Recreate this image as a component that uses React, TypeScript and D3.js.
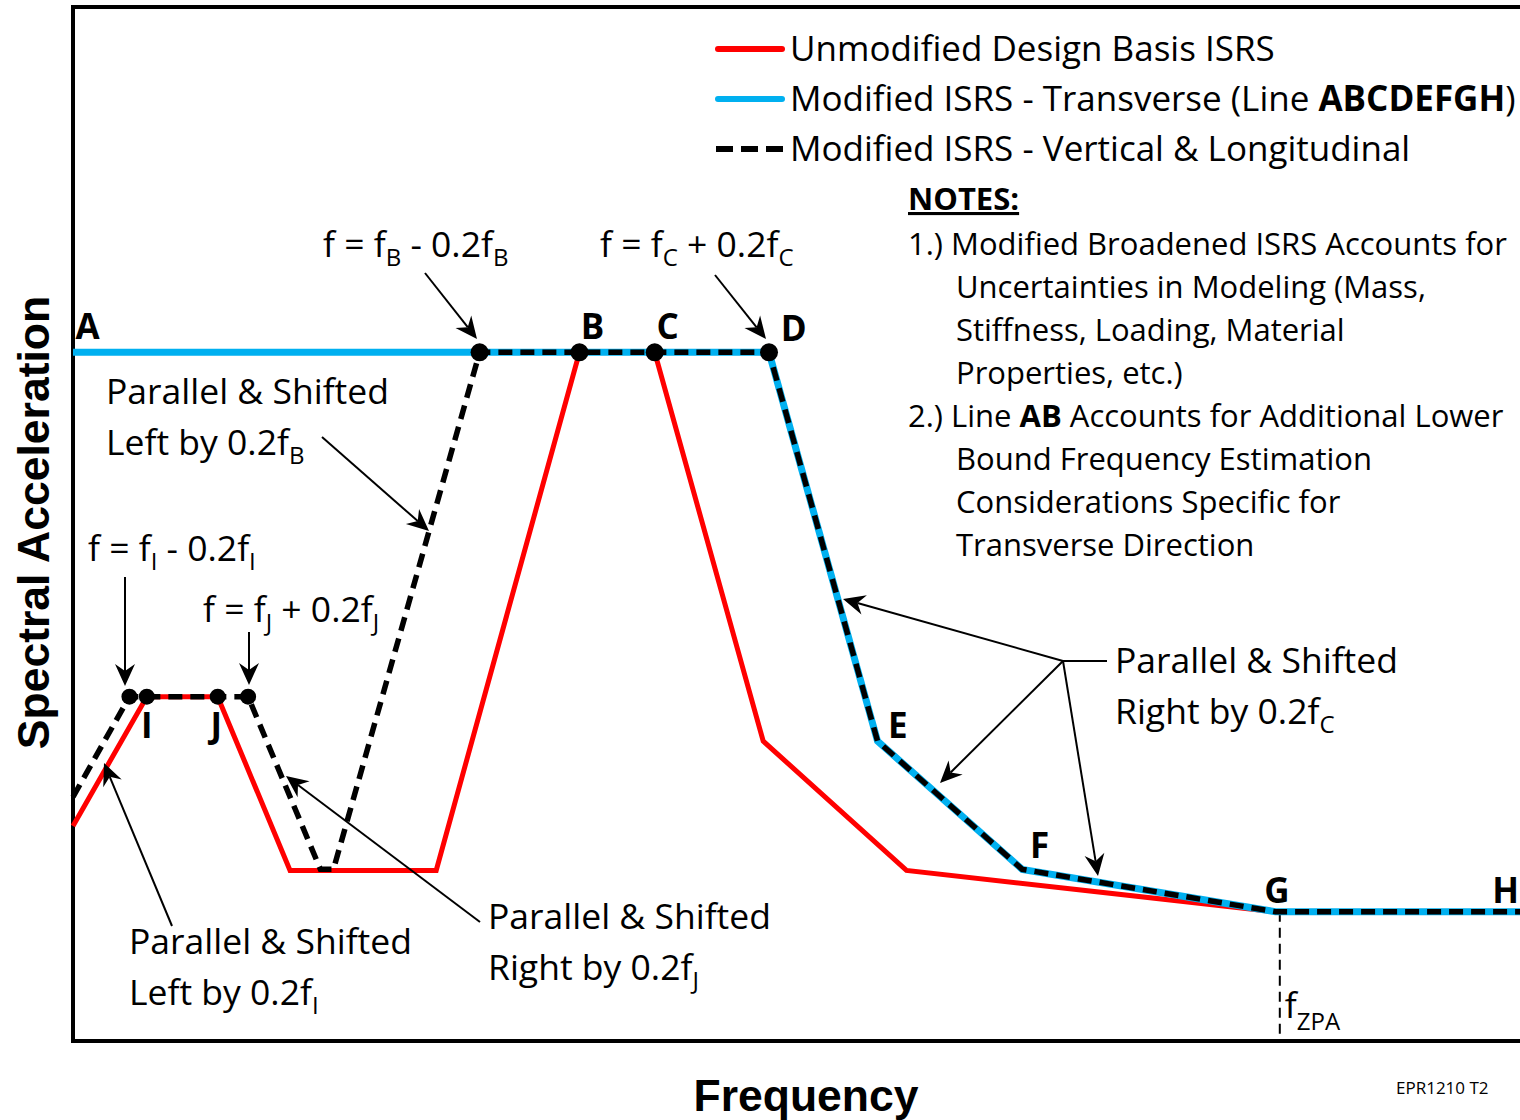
import React from "react";
import * as d3 from "d3";

// ---------- data (schematic frequency / spectral acceleration units) ----------
const unmodX = [0, 0.51, 1.0, 1.5, 2.51, 3.5, 4.02, 4.77, 5.76, 8.31, 10];
const unmodY = [2.08, 3.33, 3.33, 1.65, 1.65, 6.66, 6.66, 2.9, 1.65, 1.25, 1.25];

const transX = [0, 4.81, 5.56, 6.56, 8.31, 10];
const transY = [6.66, 6.66, 2.9, 1.66, 1.25, 1.25];

const vertX = [0, 0.39, 1.21, 1.71, 1.8, 2.81, 4.81, 5.56, 6.56, 8.31, 10];
const vertY = [2.36, 3.33, 3.33, 1.66, 1.66, 6.66, 6.66, 2.9, 1.66, 1.25, 1.25];

const upperDotsX = [2.81, 3.5, 4.02, 4.81];
const upperDotsY = [6.66, 6.66, 6.66, 6.66];
const lowerDotsX = [0.39, 0.51, 1.0, 1.21];
const lowerDotsY = [3.33, 3.33, 3.33, 3.33];

const pointNames = ["A", "B", "C", "D", "E", "F", "G", "H", "I", "J"];
const pointX = [0.1, 3.59, 4.11, 4.98, 5.7, 6.68, 8.32, 9.9, 0.51, 0.99];
const pointY = [6.79, 6.79, 6.79, 6.77, 2.93, 1.77, 1.33, 1.33, 2.93, 2.93];

const fZPA = 8.34;

const legendLabels = [
  "Unmodified Design Basis ISRS",
  "Modified ISRS - Transverse (Line ",
  "Modified ISRS - Vertical & Longitudinal",
];

const note1 = [
  "1.) Modified Broadened ISRS Accounts for",
  "Uncertainties in Modeling (Mass,",
  "Stiffness, Loading, Material",
  "Properties, etc.)",
];
const note2 = [
  "Bound Frequency Estimation",
  "Considerations Specific for",
  "Transverse Direction",
];

// ---------- layout ----------
const W = 1520;
const H = 1120;
const L = 73;
const R = 1520;
const T = 7;
const B = 1041;

const RED = "#FF0000";
const BLUE = "#00B0F0";
const FONT = "'Open Sans', sans-serif";
const ARIAL = "'Liberation Sans', Arial, sans-serif";
const FS = 35.5;
const LEGFS = 35;
const NOTEFS = 31;
const SUBFS = 24;
const SUBDY = 9;

const x = d3.scaleLinear().domain([0, 10]).range([L, R]);
const y = d3.scaleLinear().domain([0, 10]).range([B, T]);

const line = d3
  .line<[number, number]>()
  .x((d) => x(d[0]))
  .y((d) => y(d[1]));

const zip = (a: number[], b: number[]) => a.map((v, i) => [v, b[i]] as [number, number]);

type Part = [string, boolean?];

function Rich({ px, py, parts, size = FS, weight = 400 }: { px: number; py: number; parts: Part[]; size?: number; weight?: number }) {
  let inSub = false;
  return (
    <text x={px} y={py} fontFamily={FONT} fontSize={size} fontWeight={weight} fill="#000">
      {parts.map(([t, sub], i) => {
        let dy = 0;
        if (sub && !inSub) dy = SUBDY;
        if (!sub && inSub) dy = -SUBDY;
        inSub = !!sub;
        return (
          <tspan key={i} dy={dy} fontSize={sub ? SUBFS : size}>
            {t}
          </tspan>
        );
      })}
    </text>
  );
}

function Arrow({ x1, y1, x2, y2 }: { x1: number; y1: number; x2: number; y2: number }) {
  const a = Math.atan2(y2 - y1, x2 - x1);
  const len = 22;
  const hw = 10;
  const notch = 15;
  const c = Math.cos(a);
  const s = Math.sin(a);
  const p = (u: number, v: number) => [x2 + u * c - v * s, y2 + u * s + v * c];
  const pts = [p(0, 0), p(-len, -hw), p(-notch, 0), p(-len, hw)];
  const bx = x2 - notch * c;
  const by = y2 - notch * s;
  return (
    <g>
      <line x1={x1} y1={y1} x2={bx} y2={by} stroke="#000" strokeWidth={2} />
      <polygon points={pts.map((q) => q.join(",")).join(" ")} fill="#000" />
    </g>
  );
}

export default function App() {
  const red = zip(unmodX, unmodY);
  const blue = zip(transX, transY);
  const black = zip(vertX, vertY);
  const dots = [...zip(upperDotsX, upperDotsY).map((d) => [...d, 9]), ...zip(lowerDotsX, lowerDotsY).map((d) => [...d, 8])];

  const legendY = [49, 99, 149];
  const noteLine = 43;

  return (
    <svg width={W} height={H} style={{ position: "absolute", left: 0, top: 0, background: "#fff" }}>
      <rect width={W} height={H} fill="#fff" />
      {/* frame */}
      <path d={`M${R + 5},${T} L${L},${T} L${L},${B} L${R + 5},${B}`} fill="none" stroke="#000" strokeWidth={4} />

      {/* fZPA marker */}
      <line x1={x(fZPA)} x2={x(fZPA)} y1={y(1.25)} y2={B} stroke="#000" strokeWidth={2} strokeDasharray="10 6" />
      <text x={x(fZPA) + 5} y={1018} fontFamily={FONT} fontSize={FS} fill="#000">
        f<tspan fontSize={24} dy={12}>ZPA</tspan>
      </text>

      {/* series */}
      <path d={line(red) || ""} fill="none" stroke={RED} strokeWidth={5} strokeLinejoin="miter" />
      <path d={line(blue) || ""} fill="none" stroke={BLUE} strokeWidth={7} strokeLinejoin="miter" />
      <path d={line(black) || ""} fill="none" stroke="#000" strokeWidth={5.5} strokeDasharray="14 8" strokeLinejoin="miter" />
      {dots.map((d, i) => (
        <circle key={i} cx={x(d[0])} cy={y(d[1])} r={d[2]} fill="#000" />
      ))}

      {/* point names */}
      {pointNames.map((n, i) => (
        <text key={n} x={x(pointX[i])} y={y(pointY[i])} textAnchor="middle" fontFamily={FONT} fontWeight={700} fontSize={35} fill="#000">
          {n}
        </text>
      ))}

      {/* annotation texts */}
      <Rich px={323} py={257} parts={[["f = f"], ["B", true], [" - 0.2f"], ["B", true]]} />
      <Rich px={600} py={257} parts={[["f = f"], ["C", true], [" + 0.2f"], ["C", true]]} />
      <Rich px={106} py={404} parts={[["Parallel & Shifted"]]} />
      <Rich px={106} py={455} parts={[["Left by 0.2f"], ["B", true]]} />
      <Rich px={88} py={561} parts={[["f = f"], ["I", true], [" - 0.2f"], ["I", true]]} />
      <Rich px={203} py={622} parts={[["f = f"], ["J", true], [" + 0.2f"], ["J", true]]} />
      <Rich px={129} py={954} parts={[["Parallel & Shifted"]]} />
      <Rich px={129} py={1005} parts={[["Left by 0.2f"], ["I", true]]} />
      <Rich px={488} py={929} parts={[["Parallel & Shifted"]]} />
      <Rich px={488} py={980} parts={[["Right by 0.2f"], ["J", true]]} />
      <Rich px={1115} py={673} parts={[["Parallel & Shifted"]]} />
      <Rich px={1115} py={724} parts={[["Right by 0.2f"], ["C", true]]} />

      {/* arrows */}
      <Arrow x1={425} y1={273} x2={477} y2={339} />
      <Arrow x1={715} y1={275} x2={766} y2={339} />
      <Arrow x1={125} y1={577} x2={125} y2={686} />
      <Arrow x1={249} y1={632} x2={249} y2={685} />
      <Arrow x1={322} y1={437} x2={429} y2={531} />
      <Arrow x1={172} y1={926} x2={104} y2={763} />
      <Arrow x1={480} y1={922} x2={286} y2={776} />
      <line x1={1063} y1={661} x2={1107} y2={661} stroke="#000" strokeWidth={2} />
      <Arrow x1={1063} y1={661} x2={843} y2={599} />
      <Arrow x1={1063} y1={661} x2={940} y2={783} />
      <Arrow x1={1063} y1={661} x2={1098} y2={876} />

      {/* legend */}
      <line x1={718} x2={782} y1={legendY[0]} y2={legendY[0]} stroke={RED} strokeWidth={6} strokeLinecap="round" />
      <line x1={718} x2={782} y1={legendY[1]} y2={legendY[1]} stroke={BLUE} strokeWidth={6} strokeLinecap="round" />
      <line x1={716} x2={783} y1={legendY[2]} y2={legendY[2]} stroke="#000" strokeWidth={6} strokeDasharray="17 8" />
      <text x={790} y={legendY[0] + 12} fontFamily={FONT} fontSize={LEGFS} fill="#000">
        {legendLabels[0]}
      </text>
      <text x={790} y={legendY[1] + 12} fontFamily={FONT} fontSize={LEGFS} fill="#000">
        {legendLabels[1]}
        <tspan fontWeight={700}>ABCDEFGH</tspan>)
      </text>
      <text x={790} y={legendY[2] + 12} fontFamily={FONT} fontSize={LEGFS} fill="#000">
        {legendLabels[2]}
      </text>

      {/* notes */}
      <text x={908} y={210} fontFamily={FONT} fontSize={NOTEFS} fontWeight={700} textDecoration="underline" fill="#000">
        NOTES:
      </text>
      {note1.map((t, i) => (
        <text key={"n1" + i} x={i === 0 ? 908 : 956} y={255 + i * noteLine} fontFamily={FONT} fontSize={NOTEFS} fill="#000">
          {t}
        </text>
      ))}
      <text x={908} y={255 + 4 * noteLine} fontFamily={FONT} fontSize={NOTEFS} fill="#000">
        2.) Line <tspan fontWeight={700}>AB</tspan> Accounts for Additional Lower
      </text>
      {note2.map((t, i) => (
        <text key={"n2" + i} x={956} y={255 + (5 + i) * noteLine} fontFamily={FONT} fontSize={NOTEFS} fill="#000">
          {t}
        </text>
      ))}

      {/* axis titles */}
      <text
        transform={`translate(49,${(295 + 750) / 2}) rotate(-90)`}
        textAnchor="middle"
        fontFamily={ARIAL}
        fontWeight={700}
        fontSize={44.5}
        fill="#000"
      >
        Spectral Acceleration
      </text>
      <text x={806} y={1111} textAnchor="middle" fontFamily={ARIAL} fontWeight={700} fontSize={44.5} fill="#000">
        Frequency
      </text>
      <text x={1396} y={1094} fontFamily={FONT} fontSize={17} fill="#000">
        EPR1210 T2
      </text>
    </svg>
  );
}
